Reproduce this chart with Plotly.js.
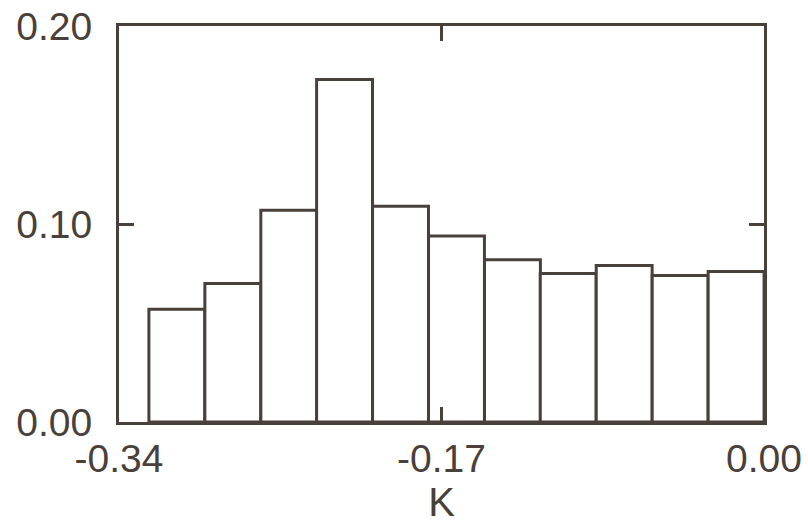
<!DOCTYPE html>
<html>
<head>
<meta charset="utf-8">
<script src="https://cdn.plot.ly/plotly-3.0.1.min.js"></script>
<style>html,body{margin:0;padding:0;background:#fff;}#chart{width:808px;height:532px;}</style>
</head>
<body>
<div id="chart"></div>
<script>
// Histogram of K (bin centers and relative frequencies)
const binCenters = [-0.3095, -0.2800, -0.2505, -0.2211, -0.1916, -0.1621, -0.1326, -0.1032, -0.0737, -0.0442, -0.0147];
const frequencies = [0.057, 0.070, 0.107, 0.173, 0.109, 0.094, 0.082, 0.075, 0.079, 0.074, 0.076];
const binWidth = 0.02947;
const xTickVals = [-0.34, -0.17, 0.00];
const xTickText = ["-0.34", "-0.17", "0.00"];
const yTickVals = [0.00, 0.10, 0.20];
const yTickText = ["0.00", "0.10", "0.20"];

const ink = '#4a403a';
const fontFam = '"Liberation Sans", Arial, Helvetica, sans-serif';

const trace = {
  type: 'bar',
  x: binCenters,
  y: frequencies,
  width: binCenters.map(() => binWidth),
  marker: {color: '#ffffff', line: {color: ink, width: 3}},
  hoverinfo: 'skip'
};

const layout = {
  width: 808, height: 532,
  margin: {l: 119, r: 44, t: 26, b: 110},
  paper_bgcolor: '#ffffff', plot_bgcolor: '#ffffff',
  showlegend: false,
  font: {family: fontFam, color: ink, size: 39},
  bargap: 0,
  xaxis: {
    range: [-0.34, 0.0],
    tickvals: xTickVals, ticktext: xTickText,
    ticks: 'inside', ticklen: 15, tickwidth: 3, tickcolor: ink,
    showline: true, linecolor: ink, linewidth: 3, mirror: 'ticks',
    showgrid: false, zeroline: false,
    tickfont: {family: fontFam, color: ink, size: 39},
    ticklabelstandoff: 0,
    title: {text: 'K', font: {family: fontFam, color: ink, size: 40}, standoff: 10}
  },
  yaxis: {
    range: [0, 0.20],
    tickvals: yTickVals, ticktext: yTickText,
    ticks: 'inside', ticklen: 15, tickwidth: 3, tickcolor: ink,
    showline: true, linecolor: ink, linewidth: 3, mirror: 'ticks',
    showgrid: false, zeroline: false,
    tickfont: {family: fontFam, color: ink, size: 39},
    ticklabelstandoff: 16
  }
};

Plotly.newPlot('chart', [trace], layout, {staticPlot: true, displayModeBar: false});
</script>
</body>
</html>
